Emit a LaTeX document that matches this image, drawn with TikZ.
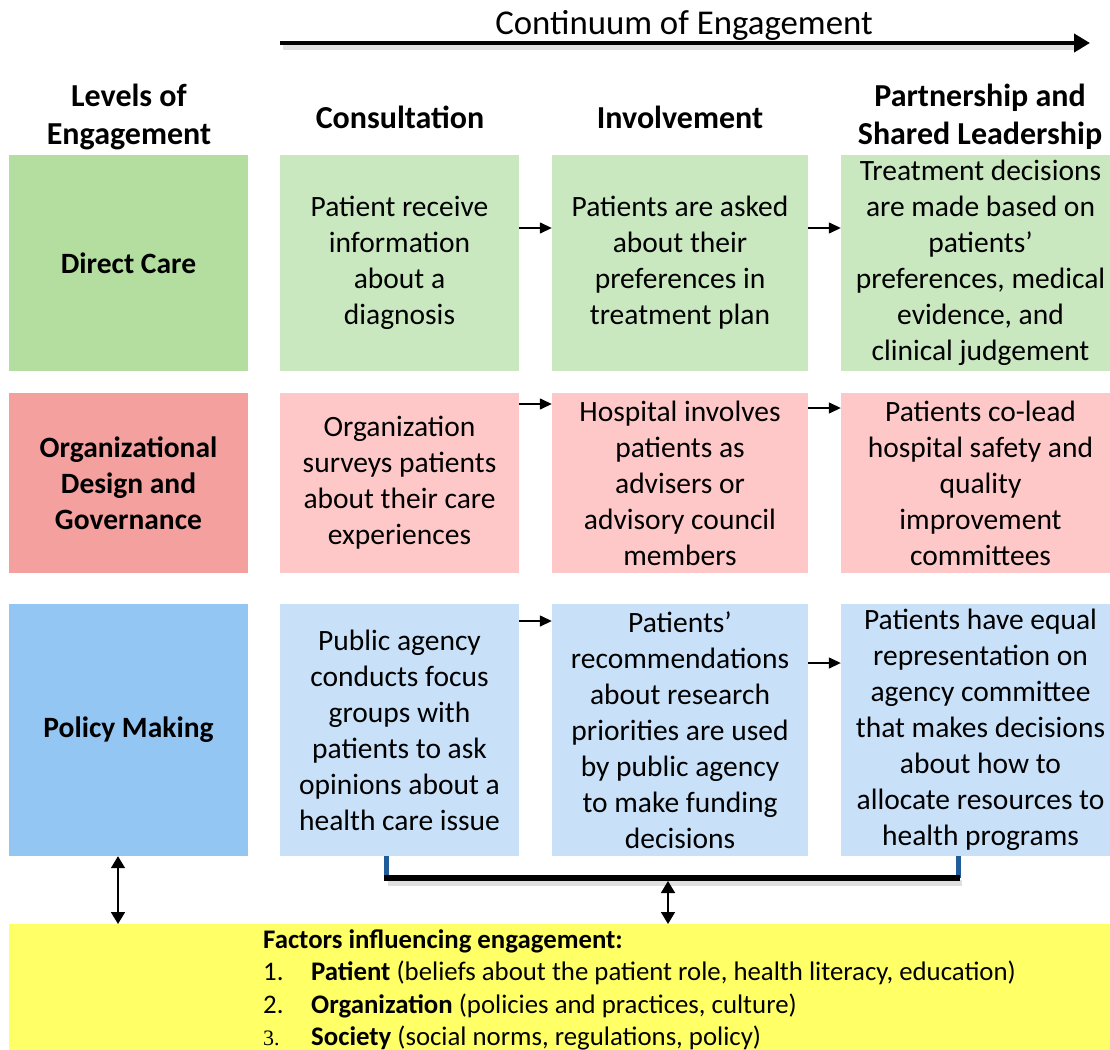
\documentclass[tikz,border=0pt]{standalone}
\usepackage{fontspec}
\setmainfont{Carlito}
\newfontfamily\numserif{Liberation Serif}
\usetikzlibrary{arrows.meta}
\definecolor{gL}{HTML}{B3DEA0}
\definecolor{gC}{HTML}{C9E8C0}
\definecolor{rL}{HTML}{F4A09F}
\definecolor{rC}{HTML}{FFC8C8}
\definecolor{bL}{HTML}{94C6F3}
\definecolor{bC}{HTML}{C8E1F8}
\definecolor{yel}{HTML}{FFFF66}
\definecolor{tick}{HTML}{1F5C99}
\begin{document}
\begin{tikzpicture}[x=1pt,y=-1pt,
  cell/.style={inner sep=0pt, align=center, font=\fontsize{29.5}{36}\selectfont},
  lab/.style={cell, font=\fontsize{29.5}{36}\selectfont\bfseries},
  hdr/.style={inner sep=0pt, align=center, font=\fontsize{32}{38}\selectfont\bfseries},
  arr/.style={line width=1.4pt, -{Triangle[length=12pt,width=11pt]}},
  darr/.style={line width=1.6pt, {Triangle[length=12pt,width=14pt]}-{Triangle[length=12pt,width=14pt]}},
  item/.style={inner sep=0pt, anchor=base west, font=\fontsize{26.8}{33}\selectfont}]
\useasboundingbox (0,0) rectangle (1110,1049);

% title and continuum arrow
\node[inner sep=0pt, font=\fontsize{34.8}{40}\selectfont] (title) at (684,25) {Continuum of Engagement};
\coordinate (ca) at (280,43);
\coordinate (cb) at (1090,43);
\draw[line width=5pt, gray!25] ([shift={(3,5)}]ca) -- ([shift={(-10,5)}]cb);
\draw[line width=4.5pt, -{Triangle[length=16pt,width=18pt]}] (ca) -- (cb);

% headers
\node[hdr] (h1) at (129,117) {Levels of\\Engagement};
\node[hdr] (h2) at (400,117) {Consultation};
\node[hdr] (h3) at (680,117) {Involvement};
\node[hdr] (h4) at (980,117) {Partnership and\\Shared Leadership};

% row 1
\node[lab, fill=gL, minimum width=239pt, minimum height=216pt] (r1c1) at (128.5,263) {Direct Care};
\node[cell, fill=gC, minimum width=239pt, minimum height=216pt] (r1c2) at (399.5,263) {Patient receive\\information\\about a\\diagnosis};
\node[cell, fill=gC, minimum width=256pt, minimum height=216pt] (r1c3) at (680,263) {Patients are asked\\about their\\preferences in\\treatment plan};
\node[cell, fill=gC, minimum width=279pt, minimum height=216pt] (r1c4) at (980.5,263) {Treatment decisions\\are made based on\\patients'\\preferences, medical\\evidence, and\\clinical judgement};

% row 2
\node[lab, fill=rL, minimum width=239pt, minimum height=180pt] (r2c1) at (128.5,483) {Organizational\\Design and\\Governance};
\node[cell, fill=rC, minimum width=239pt, minimum height=180pt] (r2c2) at (399.5,483) {Organization\\surveys patients\\about their care\\experiences};
\node[cell, fill=rC, minimum width=256pt, minimum height=180pt] (r2c3) at (680,483) {Hospital involves\\patients as\\advisers or\\advisory council\\members};
\node[cell, fill=rC, minimum width=279pt, minimum height=180pt] (r2c4) at (980.5,483) {Patients co-lead\\hospital safety and\\quality\\improvement\\committees};

% row 3
\node[lab, fill=bL, minimum width=239pt, minimum height=252pt] (r3c1) at (128.5,730) {Policy Making};
\node[cell, fill=bC, minimum width=239pt, minimum height=252pt] (r3c2) at (399.5,730) {Public agency\\conducts focus\\groups with\\patients to ask\\opinions about a\\health care issue};
\node[cell, fill=bC, minimum width=256pt, minimum height=252pt] (r3c3) at (680,730) {Patients'\\recommendations\\about research\\priorities are used\\by public agency\\to make funding\\decisions};
\node[cell, fill=bC, minimum width=279pt, minimum height=252pt] (r3c4) at (980.5,730) {Patients have equal\\representation on\\agency committee\\that makes decisions\\about how to\\allocate resources to\\health programs};

% row arrows
\draw[arr] (r1c2.east |- 0,228) -- (r1c3.west |- 0,228);
\draw[arr] (r1c3.east |- 0,228) -- (r1c4.west |- 0,228);
\draw[arr] (r2c2.east |- 0,404) -- (r2c3.west |- 0,404);
\draw[arr] (r2c3.east |- 0,408) -- (r2c4.west |- 0,408);
\draw[arr] (r3c2.east |- 0,621) -- (r3c3.west |- 0,621);
\draw[arr] (r3c3.east |- 0,663) -- (r3c4.west |- 0,663);

% factors box
\node[fill=yel, inner sep=0pt, minimum width=1101pt, minimum height=140pt, anchor=north west] (fac) at (9,924) {};
\node[item, font=\fontsize{26.8}{33}\selectfont\bfseries] (fh) at (263,948) {Factors influencing engagement:};
\node[item] (n1) at (263,980) {1.};
\node[item] (t1) at (311,980) {\textbf{Patient} (beliefs about the patient role, health literacy, education)};
\node[item] (n2) at (263,1013) {2.};
\node[item] (t2) at (311,1013) {\textbf{Organization} (policies and practices, culture)};
\node[item, font=\fontsize{22}{33}\selectfont\numserif] (n3) at (263,1045) {3.};
\node[item] (t3) at (311,1045) {\textbf{Society} (social norms, regulations, policy)};

% bracket
\coordinate (bl) at (386,878);
\coordinate (br) at (958,878);
\draw[line width=6pt, gray!25] ([shift={(2,5)}]bl) -- ([shift={(4,5)}]br);
\draw[line width=5pt, tick] (r3c2.south -| bl) -- (bl);
\draw[line width=5pt, tick] (r3c4.south -| br) -- (br);
\draw[line width=6pt] ([xshift=-2pt]bl) -- ([xshift=2pt]br);
\coordinate (bm) at (668,881);
\draw[darr] (bm) -- (fac.north -| bm);
\coordinate (lm) at (118,0);
\draw[darr] (r3c1.south -| lm) -- (fac.north -| lm);
\end{tikzpicture}
\end{document}
